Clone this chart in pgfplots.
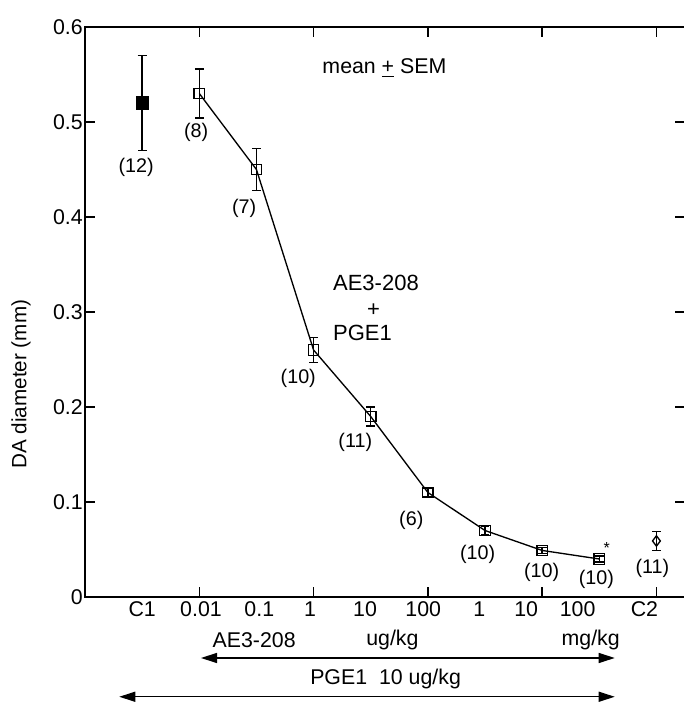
\documentclass[border=0pt]{standalone}
\usepackage{pgfplots}
\pgfplotsset{compat=1.18}
\usepackage{fontspec}
\setmainfont{Liberation Sans}
\usetikzlibrary{arrows.meta}

\newcommand{\tl}{\fontsize{16}{19}\selectfont}
\newcommand{\nl}{\fontsize{14.8}{17}\selectfont}

\begin{document}
\begin{tikzpicture}
\begin{axis}[
    scale only axis,
    width=450pt, height=427.5pt,
    xmin=-1, xmax=9.5,
    ymin=0, ymax=0.6,
    clip=false,
    axis line style={line width=1.2pt},
    tick style={line width=1.1pt, black},
    tick align=inside,
    major tick length=7.5pt,
    xtick={1,3,5,7,9},
    xticklabels={},
    extra x ticks={0,1.03,2.05,2.94,3.9,4.92,5.9,6.72,7.62,8.79},
    extra x tick labels={C1,0.01,0.1,1,10,100,1,10,100,C2},
    extra x tick style={major tick length=0pt},
    ytick={0,0.1,0.2,0.3,0.4,0.5,0.6},
    yticklabels={0,0.1,0.2,0.3,0.4,0.5,0.6},
    ticklabel style={font=\tl},
    yticklabel style={inner xsep=1.5pt},
    /pgf/number format/assume math mode=true,
    error bars/error bar style={line width=1.1pt},
    error bars/error mark options={rotate=90, mark size=3.3pt, line width=1.1pt},
]

% control C1
\addplot[black, only marks, mark=square*, mark size=4.7pt,
    error bars/.cd, y dir=both, y explicit]
    coordinates {(0,0.52) +- (0,0.05)};

% AE3-208 + PGE1 dose series
\addplot[black, line width=1pt, mark=square, mark size=3.9pt,
    mark options={line width=1pt},
    error bars/.cd, y dir=both, y explicit]
    coordinates {
    (1,0.53) +- (0,0.026)
    (2,0.45) +- (0,0.022)
    (3,0.26) +- (0,0.013)
    (4,0.19) +- (0,0.010)
    (5,0.11) +- (0,0.004)
    (6,0.07) +- (0,0.004)
    (7,0.049) +- (0,0.003)
    (8,0.04) +- (0,0.003)
    };

% control C2
\addplot[black, only marks, mark=diamond, mark size=3.9pt,
    mark options={line width=1pt},
    error bars/.cd, y dir=both, y explicit]
    coordinates {(9,0.059) +- (0,0.01)};

% n per group
\node[font=\nl] at (axis cs:-0.105,0.4526) {(12)};
\node[font=\nl] at (axis cs:0.946,0.4895) {(8)};
\node[font=\nl] at (axis cs:1.786,0.4095) {(7)};
\node[font=\nl] at (axis cs:2.732,0.2305) {(10)};
\node[font=\nl] at (axis cs:3.73,0.163) {(11)};
\node[font=\nl] at (axis cs:4.71,0.081) {(6)};
\node[font=\nl] at (axis cs:5.87,0.0453) {(10)};
\node[font=\nl] at (axis cs:6.99,0.0263) {(10)};
\node[font=\nl] at (axis cs:7.95,0.0189) {(10)};
\node[font=\nl] at (axis cs:8.93,0.0305) {(11)};
\node[font=\fontsize{12}{14}\selectfont] at (axis cs:8.13,0.0516) {*};

\node[font=\tl] at (axis cs:4.24,0.557) {mean \underline{+} SEM};
\node[font=\fontsize{16.5}{19}\selectfont, anchor=west] at (axis cs:3.26,0.3305) {AE3-208};
\node[font=\fontsize{16.5}{19}\selectfont] at (axis cs:4.05,0.302) {+};
\node[font=\fontsize{16.5}{19}\selectfont, anchor=west] at (axis cs:3.26,0.278) {PGE1};

% y label
\node[font=\fontsize{15.5}{18}\selectfont, rotate=90] at (axis cs:-2.12,0.224) {DA diameter (mm)};

% dose labels and ranges below the axis
\node[font=\tl] at (axis cs:1.96,-0.0453) {AE3-208};
\node[font=\tl] at (axis cs:4.38,-0.0453) {ug/kg};
\node[font=\tl] at (axis cs:7.85,-0.0453) {mg/kg};
\draw[line width=1pt, {Triangle[length=12pt,width=7.5pt]}-{Triangle[length=12pt,width=7.5pt]}]
    (axis cs:1.03,-0.0642) -- (axis cs:8.27,-0.0642);
\node[font=\tl] at (axis cs:4.26,-0.0863) {PGE1\ \ 10 ug/kg};
\draw[line width=1pt, {Triangle[length=12pt,width=7.5pt]}-{Triangle[length=12pt,width=7.5pt]}]
    (axis cs:-0.40,-0.105) -- (axis cs:8.27,-0.105);

\coordinate (bbsw) at (rel axis cs:-0.14167,-0.18772);
\coordinate (bbne) at (rel axis cs:0.99667,1.04737);
\end{axis}
\pgfresetboundingbox
\useasboundingbox (bbsw) rectangle (bbne);
\end{tikzpicture}
\end{document}
